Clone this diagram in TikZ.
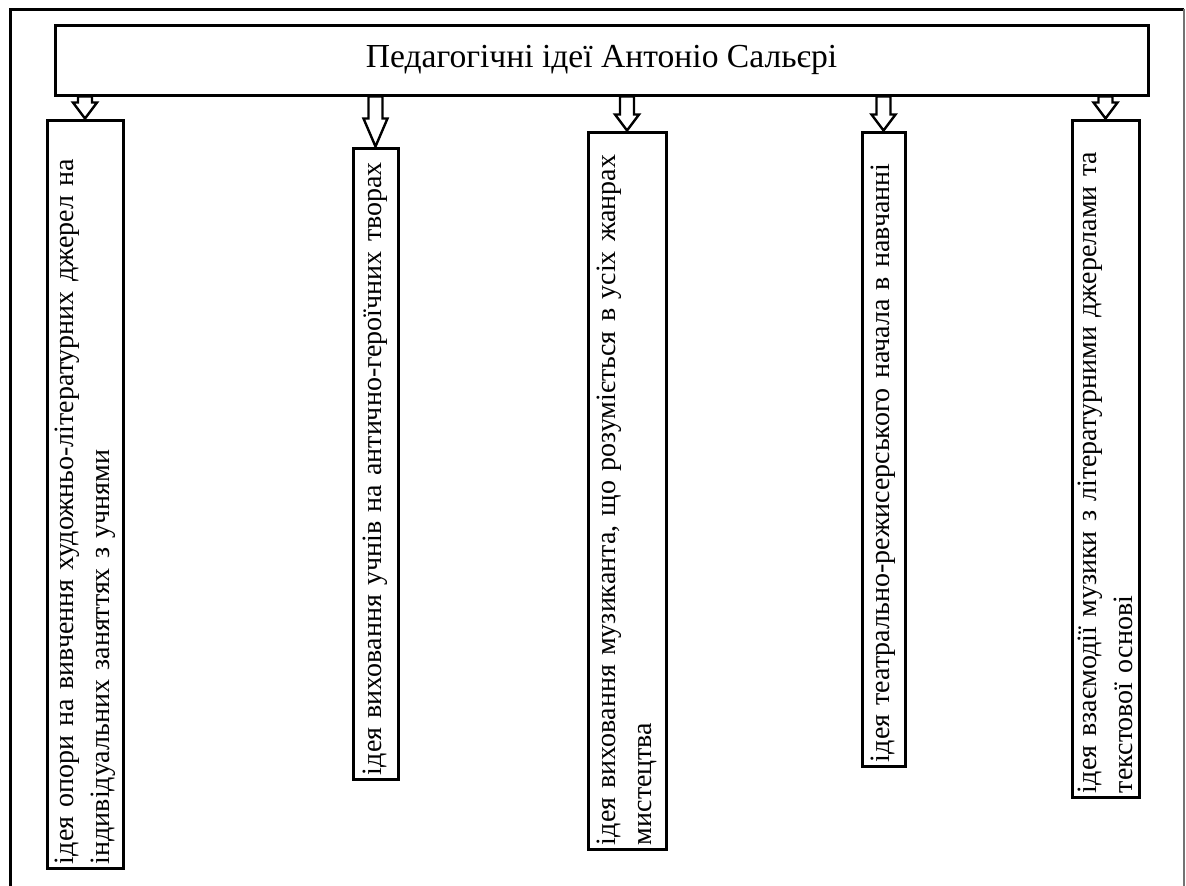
\documentclass[tikz,border=0pt]{standalone}
\usepackage{fontspec}
\setmainfont{Liberation Serif}
\usetikzlibrary{calc}

\begin{document}
\begin{tikzpicture}[x = 0.5pt, y = -0.5pt]
        \tikzstyle{every node} = [draw, rectangle, line width = 1.5pt, font = \fontsize{14}{18}\selectfont]
        \tikzstyle{idea} = [rotate = 90, align = left, inner xsep = 2pt, inner ysep = 2pt]
        \tikzset{blockarrow/.style = {line width = 1.2pt, line join = miter,
            to path = {let \p1 = (\tikztostart), \p2 = (\tikztotarget) in
                (\x1-3.5pt, \y1) -- (\x1-3.5pt, \y2+#1) -- (\x1-6pt, \y2+#1) -- (\x2, \y2)
                -- (\x1+6pt, \y2+#1) -- (\x1+3.5pt, \y2+#1) -- (\x1+3.5pt, \y1) -- cycle}},
            blockarrow/.default = 8pt}
        \useasboundingbox (0, 0) rectangle (1186, 885);
        \draw[line width = 1.5pt] (10, 900) -- (10, 9) -- (1184, 9);
        \draw[line width = 1pt, black!55] (1184, 9) -- (1184, 900);

        \node(title) [minimum width = 546.5pt, minimum height = 35pt, font = \fontsize{16.8}{20}\selectfont] at (601.5, 60) {Педагогічні ідеї Антоніо Сальєрі};

        \node(idea1) [idea, text width = 370pt, minimum height = 38pt] at (85, 494)
            {ідея опори на вивчення художньо-літературних джерел на\\індивідуальних заняттях з учнями};
        \node(idea2) [idea, text width = 311.5pt, minimum height = 22.5pt] at (375.5, 463.5)
            {ідея виховання учнів на антично-героїчних творах};
        \node(idea3) [idea, text width = 354.5pt, minimum height = 39pt] at (627, 490.5)
            {ідея виховання музиканта, що розуміється в усіх жанрах\\мистецтва};
        \node(idea4) [idea, text width = 313pt, minimum height = 21.5pt] at (883.5, 449)
            {ідея театрально-режисерського начала в навчанні};
        \node(idea5) [idea, text width = 334.5pt, minimum height = 33.5pt] at (1105.5, 458.5)
            {ідея взаємодії музики з літературними джерелами та\\текстової основі};

        \draw [blockarrow] (idea1.east |- title.south) to (idea1.east);
        \draw [blockarrow = 14pt] (idea2.east |- title.south) to (idea2.east);
        \draw [blockarrow] (idea3.east |- title.south) to (idea3.east);
        \draw [blockarrow] (idea4.east |- title.south) to (idea4.east);
        \draw [blockarrow] (idea5.east |- title.south) to (idea5.east);

\end{tikzpicture}
\end{document}
